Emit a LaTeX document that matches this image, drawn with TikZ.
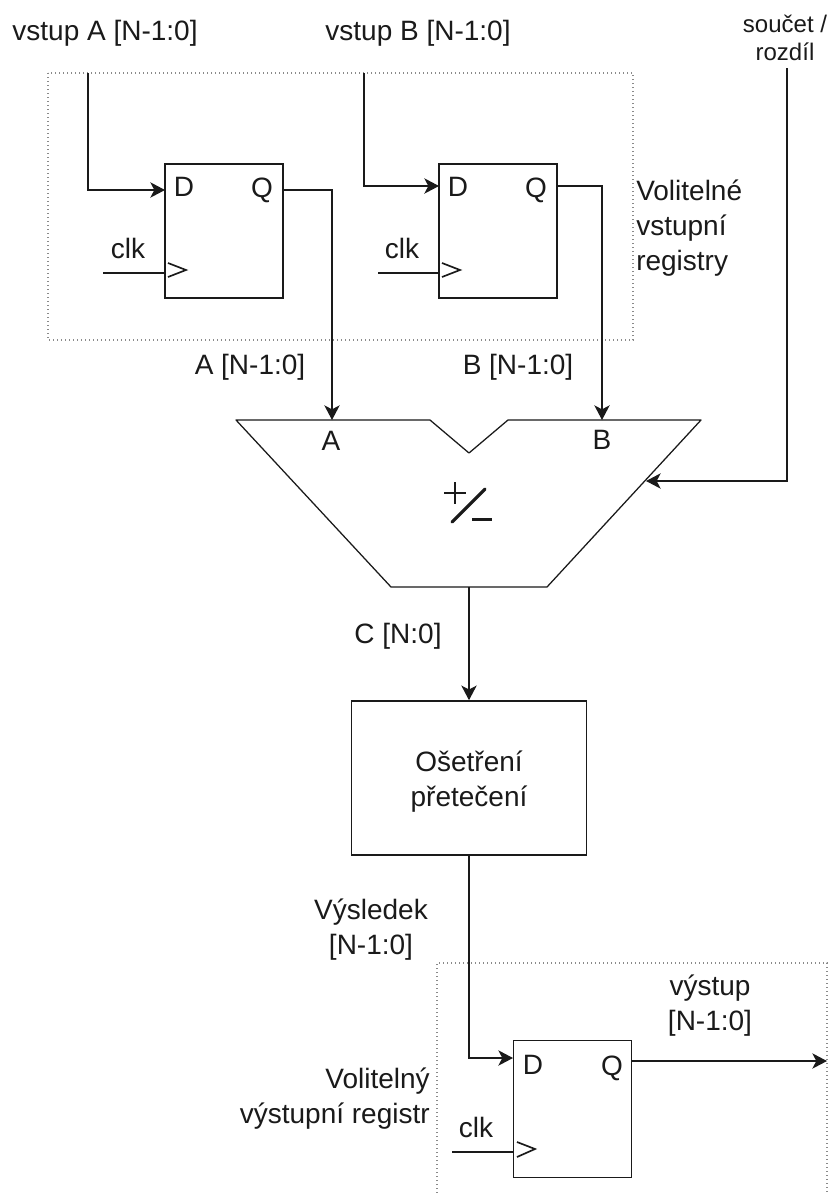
\documentclass[tikz,border=0pt]{standalone}
\usepackage{fontspec}
\setmainfont{Liberation Sans}
\usetikzlibrary{arrows.meta,calc}
\definecolor{ink}{HTML}{1A1A1A}
\definecolor{dots}{HTML}{8A8A8A}
\tikzset{
  wire/.style={draw=ink,line width=1.1pt,line join=miter},
  arrowwire/.style={wire,-{Stealth[length=11pt,width=11.5pt,inset=3pt]}},
  blockbox/.style={draw=ink,line width=1.2pt,fill=white,inner sep=0pt,minimum width=88.5pt,minimum height=100.5pt},
  groupbox/.style={draw=dots,line width=1pt,dotted},
  lab/.style={inner sep=0pt,text=ink,font=\fontsize{21}{26.2}\selectfont,align=center},
  smalllab/.style={inner sep=0pt,text=ink,font=\fontsize{18}{21}\selectfont,align=center},
  clock/.style={draw=ink,line width=1.25pt}
}
\begin{document}
\begin{tikzpicture}[x=0.75pt,y=-0.75pt]
\useasboundingbox (0,0) rectangle (831,1193);
\fill[white] (0,0) rectangle (831,1193);

% dotted groups
\draw[groupbox] (48,73) rectangle (633,340);
\draw[groupbox] (437,1193) -- (437,963) -- (827,963) -- (827,1193);

% registers
\node[blockbox] (ffa) at (224,231) {};
\node[blockbox] (ffb) at (498,231) {};
\node[blockbox,minimum height=103pt] (ffc) at (572.5,1109) {};
\node[blockbox,minimum width=176pt,minimum height=115.5pt] (ovf) at (469,778) {};

\node[lab] (da) at (184,187) {D};
\node[lab] (qa) at (262,190) {Q};
\node[lab] (db) at (458,187) {D};
\node[lab] (qb) at (536,190) {Q};
\node[lab] (dc) at (533,1065) {D};
\node[lab] (qc) at (612,1068) {Q};

% free ends
\coordinate (ina) at (88,73);
\coordinate (inb) at (364,73);
\coordinate (inc) at (787,68);
\coordinate (clka) at (103,273);
\coordinate (clkb) at (378,273);
\coordinate (clkc) at (452,1152);
\coordinate (outc) at (827,1061);
\coordinate (dina) at (165,190);
\coordinate (dinb) at (439,186);
\coordinate (dinc) at (513,1058);
\coordinate (qouta) at (283,190);
\coordinate (qoutb) at (557,186);
\coordinate (qoutc) at (632,1061);
\coordinate (ckina) at (165,273);
\coordinate (ckinb) at (439,273);
\coordinate (ckinc) at (513,1152);

% adder
\coordinate (tl) at (236,420);
\coordinate (nl) at (430,420);
\coordinate (nm) at (469,453);
\coordinate (nr) at (508,420);
\coordinate (tr) at (701,420);
\coordinate (br) at (547,587);
\coordinate (bl) at (391,587);
\coordinate (addA) at (332,420);
\coordinate (addB) at (602,420);
\coordinate (addS) at (646,481);
\coordinate (addC) at (469,587);
\draw[wire,line width=.95pt,line join=round] (tl) -- (nl) -- (nm) -- (nr) -- (tr) -- (br) -- (bl) -- cycle;

% +/- symbol
\coordinate (pc) at (455,493);
\draw[ink,line width=1.7pt] ($(pc)+(-11,0)$) -- ($(pc)+(11,0)$);
\draw[ink,line width=1.7pt] ($(pc)+(0,-11)$) -- ($(pc)+(0,11)$);
\coordinate (sa) at (452,522);
\coordinate (sb) at (485,489);
\draw[ink,line width=2.4pt,line cap=round] (sa) -- (sb);
\coordinate (ma) at (472,519.5);
\coordinate (mb) at (492,519.5);
\draw[ink,line width=1.7pt] (ma) -- (mb);

% connectors
\draw[arrowwire] (ina) |- (dina);
\draw[arrowwire] (inb) |- (dinb);
\draw[arrowwire] (qouta) -| (addA);
\draw[arrowwire] (qoutb) -| (addB);
\draw[arrowwire] (inc) |- (addS);
\draw[arrowwire] (addC) -- (ovf.north);
\draw[arrowwire] (ovf.south) |- (dinc);
\draw[arrowwire] (qoutc) -- (outc);
\draw[wire] (clka) -- (ckina);
\draw[wire] (clkb) -- (ckinb);
\draw[wire] (clkc) -- (ckinc);

% clock marks
\draw[clock] (168,263) -- (186,270) -- (168,277);
\draw[clock] (442,263) -- (460,270) -- (442,277);
\draw[clock] (517,1142) -- (535,1149) -- (517,1157);

% labels
\node[lab] (tina) at (105,33) {vstup A [N-1:0]};
\node[lab] (tinb) at (418,33) {vstup B [N-1:0]};
\node[smalllab] (tsel) at (785,38) {součet /\\rozdíl};
\node[lab] (tclka) at (128,248) {clk};
\node[lab] (tclkb) at (402,248) {clk};
\node[lab] (tclkc) at (476,1127) {clk};
\node[lab,anchor=west,align=left] (tgrp) at (636,228) {Volitelné\\vstupní\\registry};
\node[lab] (ta) at (250,367) {A [N-1:0]};
\node[lab] (tb) at (518,367) {B [N-1:0]};
\node[lab] (pa) at (331,441) {A};
\node[lab] (pb) at (602,440) {B};
\node[lab] (tc) at (398,636) {C [N:0]};
\node[lab] (tovf) at (469,782) {Ošetření\\přetečení};
\node[lab] (tres) at (371,930) {Výsledek\\{}[N-1:0]};
\node[lab] (tout) at (710,1006) {výstup\\{}[N-1:0]};
\node[lab,anchor=east,align=right] (tgrpc) at (430,1099) {Volitelný\\výstupní registr};
\end{tikzpicture}
\end{document}
